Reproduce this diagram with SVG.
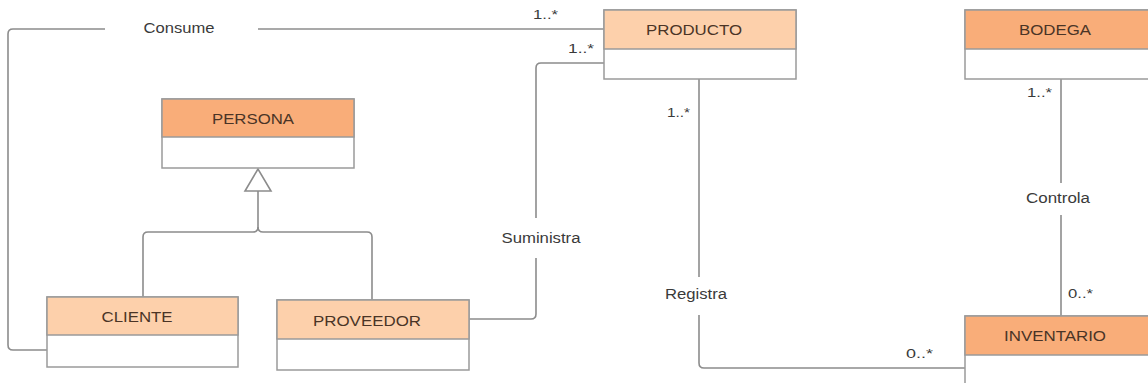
<svg xmlns="http://www.w3.org/2000/svg" width="1148" height="383" viewBox="0 0 1148 383">
<style>
.box{fill:#ffffff;stroke:#9a9a9a;stroke-width:1.5}
.hd1{fill:#f9ad79;stroke:#9a9a9a;stroke-width:1.5}
.hd2{fill:#fdd0ab;stroke:#9a9a9a;stroke-width:1.5}
.nm{font-family:"Liberation Sans",Arial,sans-serif;font-size:14px;fill:#4a3426;text-anchor:middle}
.lbl{font-family:"Liberation Sans",Arial,sans-serif;font-size:14px;fill:#3a3a3a;text-anchor:middle}
.mul{font-family:"Liberation Sans",Arial,sans-serif;font-size:12px;fill:#3a3a3a}
.ln{fill:none;stroke:#8c8c8c;stroke-width:1.6}
</style>
<rect width="1148" height="383" fill="#ffffff"/>
<g id="connectors">
<path class="ln" d="M47,350 H13 Q8,350 8,345 V34 Q8,29 13,29 H105"/>
<path class="ln" d="M258,29 H604"/>
<path class="ln" d="M469,319 H531 Q536,319 536,314 V258"/>
<path class="ln" d="M536,218 V68 Q536,63 541,63 H604"/>
<path class="ln" d="M699,79 V277"/>
<path class="ln" d="M699,315 V363 Q699,368 704,368 H965"/>
<path class="ln" d="M1061,79 V183"/>
<path class="ln" d="M1061,215 V316"/>
<path class="ln" d="M258,191 V227 Q258,232 253,232 H148 Q143,232 143,237 V297"/>
<path class="ln" d="M258,227 Q258,232 263,232 H367 Q372,232 372,237 V300"/>
<polygon points="258,169 245,191 271,191" fill="#ffffff" stroke="#8c8c8c" stroke-width="1.6"/>
<text class="lbl" x="179" y="33" textLength="71" lengthAdjust="spacingAndGlyphs">Consume</text>
<text class="lbl" x="541" y="243" textLength="79" lengthAdjust="spacingAndGlyphs">Suministra</text>
<text class="lbl" x="696" y="299" textLength="62" lengthAdjust="spacingAndGlyphs">Registra</text>
<text class="lbl" x="1058" y="203" textLength="64" lengthAdjust="spacingAndGlyphs">Controla</text>
<text class="mul" x="533" y="19" textLength="25" lengthAdjust="spacingAndGlyphs">1..*</text>
<text class="mul" x="568" y="53" textLength="26" lengthAdjust="spacingAndGlyphs">1..*</text>
<text class="mul" x="667" y="117" textLength="23" lengthAdjust="spacingAndGlyphs">1..*</text>
<text class="mul" x="1027" y="97" textLength="25" lengthAdjust="spacingAndGlyphs">1..*</text>
<text class="mul" x="1068" y="298" textLength="25" lengthAdjust="spacingAndGlyphs">0..*</text>
<text class="mul" x="906" y="358" textLength="27" lengthAdjust="spacingAndGlyphs">0..*</text>
</g>
<g id="producto">
<rect class="box" x="604" y="10" width="192" height="69"/>
<rect class="hd2" x="604" y="10" width="192" height="39"/>
<text class="nm" x="694" y="35" textLength="96" lengthAdjust="spacingAndGlyphs">PRODUCTO</text>
</g>
<g id="bodega">
<rect class="box" x="965" y="10" width="200" height="69"/>
<rect class="hd1" x="965" y="10" width="200" height="39"/>
<text class="nm" x="1055" y="35" textLength="72" lengthAdjust="spacingAndGlyphs">BODEGA</text>
</g>
<g id="persona">
<rect class="box" x="162" y="99" width="192" height="69"/>
<rect class="hd1" x="162" y="99" width="192" height="38"/>
<text class="nm" x="253" y="124" textLength="82" lengthAdjust="spacingAndGlyphs">PERSONA</text>
</g>
<g id="cliente">
<rect class="box" x="47" y="297" width="191" height="70"/>
<rect class="hd2" x="47" y="297" width="191" height="38"/>
<text class="nm" x="137" y="322" textLength="71" lengthAdjust="spacingAndGlyphs">CLIENTE</text>
</g>
<g id="proveedor">
<rect class="box" x="277" y="300" width="192" height="70"/>
<rect class="hd2" x="277" y="300" width="192" height="39"/>
<text class="nm" x="367" y="326" textLength="108" lengthAdjust="spacingAndGlyphs">PROVEEDOR</text>
</g>
<g id="inventario">
<rect class="box" x="965" y="316" width="200" height="80"/>
<rect class="hd1" x="965" y="316" width="200" height="39"/>
<text class="nm" x="1055" y="341" textLength="102" lengthAdjust="spacingAndGlyphs">INVENTARIO</text>
</g>
</svg>
